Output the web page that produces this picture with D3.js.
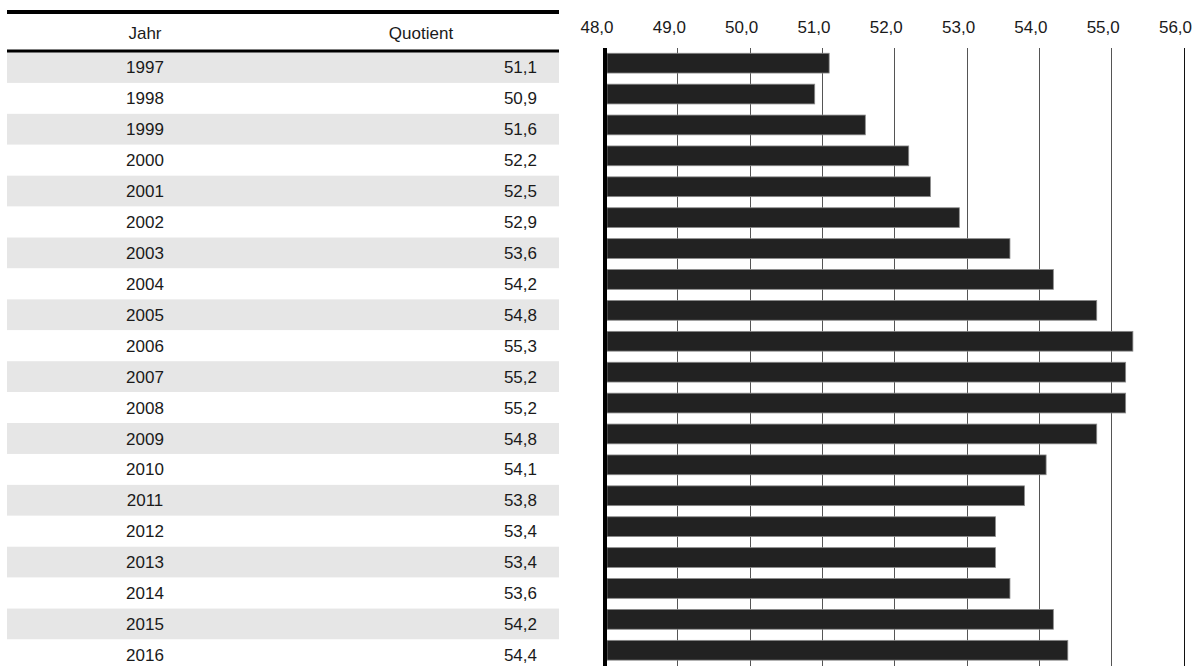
<!DOCTYPE html>
<html><head><meta charset="utf-8">
<script src="https://cdn.jsdelivr.net/npm/d3@7"></script>
<style>body{margin:0;background:#fff}svg{display:block;font-family:"Liberation Sans",Arial,sans-serif}</style>
</head><body>
<svg id="c" width="1199" height="668"></svg>
<script>
const years = ["1997","1998","1999","2000","2001","2002","2003","2004","2005","2006","2007","2008","2009","2010","2011","2012","2013","2014","2015","2016"];
const values = [51.1,50.9,51.6,52.2,52.5,52.9,53.6,54.2,54.8,55.3,55.2,55.2,54.8,54.1,53.8,53.4,53.4,53.6,54.2,54.4];
const tickValues = [48,49,50,51,52,53,54,55,56];
const headers = ["Jahr","Quotient"];

(function(){
const svg = d3.select("#c");
const fmt = v => d3.format(".1f")(v).replace(".", ",");

// table
const rowY = d3.scaleBand().domain(years).range([52, 52 + 30.92*years.length]);
const tbl = svg.append("g");
tbl.selectAll("rect.row").data(years).join("rect")
  .attr("x", 7).attr("width", 552)
  .attr("y", d => rowY(d)).attr("height", rowY.bandwidth())
  .attr("fill", (d,i) => i % 2 === 0 ? "#e6e6e6" : "#fff");
tbl.append("rect").attr("x",7).attr("y",10).attr("width",552).attr("height",4).attr("fill","#000");
tbl.append("rect").attr("x",7).attr("y",49.5).attr("width",552).attr("height",3).attr("fill","#000");
tbl.append("text").attr("x",145).attr("y",38.5).attr("text-anchor","middle").attr("font-size",17).attr("fill","#1a1a1a").text(headers[0]);
tbl.append("text").attr("x",421).attr("y",38.5).attr("text-anchor","middle").attr("font-size",17).attr("fill","#1a1a1a").text(headers[1]);
tbl.selectAll("text.yr").data(years).join("text").attr("class","yr")
  .attr("x",145).attr("y", d => rowY(d) + rowY.bandwidth()/2 + 6)
  .attr("text-anchor","middle").attr("font-size",17).attr("fill","#1a1a1a").text(d => d);
tbl.selectAll("text.val").data(values).join("text").attr("class","val")
  .attr("x",537).attr("y", (d,i) => rowY(years[i]) + rowY.bandwidth()/2 + 6)
  .attr("text-anchor","end").attr("font-size",17).attr("fill","#1a1a1a").text(d => fmt(d));

// chart
const x = d3.scaleLinear().domain([48,56]).range([605,1183.5]);
const y = d3.scaleBand().domain(years).range([47.7,665.7]).paddingInner(0.36).paddingOuter(0.18);
const y0 = 48, y1 = 666;
const ch = svg.append("g");
ch.selectAll("line.grid").data(tickValues.slice(1)).join("line")
  .attr("x1", d => Math.round(x(d)) + 0.5).attr("x2", d => Math.round(x(d)) + 0.5)
  .attr("y1", y0).attr("y2", y1)
  .attr("stroke", d => d === 56 ? "#111" : "#555").attr("stroke-width", 1);
ch.selectAll("rect.bar").data(values).join("rect")
  .attr("x", x(48) + 2).attr("y", (d,i) => y(years[i]))
  .attr("width", d => x(d) - x(48) - 2).attr("height", y.bandwidth())
  .attr("fill", "#222").attr("stroke", "#8a8a8a").attr("stroke-width", 0.8);
ch.append("line").attr("x1", x(48)).attr("x2", x(48)).attr("y1", y0).attr("y2", y1)
  .attr("stroke", "#000").attr("stroke-width", 4);
ch.selectAll("text.tick").data(tickValues).join("text")
  .attr("x", d => x(d) - 8).attr("y", 33)
  .attr("text-anchor","middle").attr("font-size",17).attr("fill","#1a1a1a").text(d => fmt(d));
})();
</script>
</body></html>
